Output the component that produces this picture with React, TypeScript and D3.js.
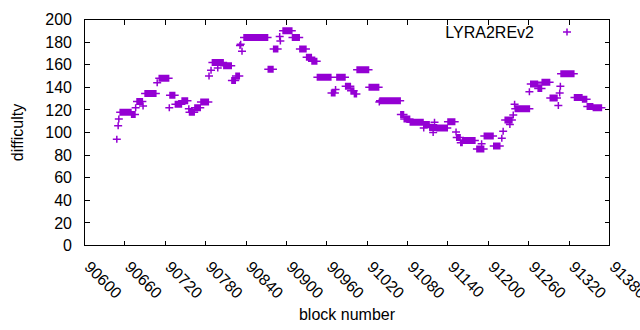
import * as d3 from "d3";
import { useEffect, useRef } from "react";

// runs of blocks that share one difficulty: first block, last block, value
const runStart = [
  90648, 90650, 90651, 90653, 90670, 90676, 90678, 90687, 90690, 90708,
  90711, 90726, 90727, 90735, 90745, 90755, 90756, 90764, 90773, 90785,
  90788, 90790, 90798, 90799, 90807, 90819, 90825, 90831, 90832, 90834,
  90837, 90873, 90881, 90890, 90891, 90895, 90909, 90920, 90930, 90938,
  90946, 90967, 90973, 90975, 90988, 90996, 91001, 91005, 91023, 91038,
  91039, 91070, 91075, 91084, 91104, 91105, 91113, 91118, 91120, 91124,
  91140, 91152, 91153, 91159, 91162, 91183, 91190, 91194, 91208, 91220,
  91222, 91225, 91232, 91237, 91239, 91240, 91261, 91263, 91274, 91280,
  91292, 91304, 91306, 91307, 91308, 91328, 91340, 91347, 91356,
];
const runEnd = [
  90648, 90650, 90651, 90669, 90675, 90676, 90686, 90687, 90706, 90708,
  90725, 90726, 90734, 90744, 90753, 90755, 90763, 90772, 90784, 90785,
  90788, 90797, 90798, 90806, 90818, 90824, 90830, 90831, 90832, 90834,
  90872, 90880, 90887, 90890, 90891, 90908, 90919, 90929, 90937, 90945,
  90966, 90972, 90973, 90987, 90995, 91000, 91004, 91022, 91037, 91038,
  91069, 91074, 91083, 91103, 91104, 91112, 91123, 91118, 91120, 91139,
  91150, 91152, 91158, 91161, 91180, 91193, 91190, 91207, 91217, 91220,
  91222, 91235, 91232, 91237, 91239, 91261, 91261, 91273, 91279, 91291,
  91302, 91304, 91306, 91307, 91327, 91339, 91346, 91355, 91368,
];
const runDifficulty = [
  94, 106, 112, 118, 116, 122, 127.5, 123.5, 134.5, 144,
  148, 122, 133, 125, 128, 121, 118, 122, 127, 150,
  155, 162, 157, 162, 159, 146, 150, 177, 178, 172,
  184, 156, 174, 185, 181, 190, 184, 174, 166.5, 163,
  149, 135, 138, 149, 141, 137, 134, 155.5, 140, 127,
  128, 116, 112, 109, 104, 107, 104.5, 100, 109, 104,
  109.5, 100.5, 95.5, 91, 93, 85.5, 90, 97, 88, 95,
  101, 111, 107, 115.5, 125, 121, 136, 143, 139, 144.5,
  130.5, 124, 135, 141, 152, 131, 129.5, 123, 122,
];

const xTicks = [90600, 90660, 90720, 90780, 90840, 90900, 90960, 91020, 91080, 91140, 91200, 91260, 91320, 91380];
const yTicks = [0, 20, 40, 60, 80, 100, 120, 140, 160, 180, 200];

const seriesName = "LYRA2REv2";
const purple = "#9400d3";

const App = () => {
  const ref = useRef(null);
  const width = 640;
  const height = 330;
  const margin = { top: 19.5, left: 84.5, right: 30.5, bottom: 84.5 };

  useEffect(() => {
    const svg = d3.select(ref.current);
    svg.selectAll("*").remove();
    const font = "'Liberation Sans', Arial, sans-serif";

    const x = d3.scaleLinear().domain([90600, 91380]).range([margin.left, width - margin.right]);
    const y = d3.scaleLinear().domain([0, 200]).range([height - margin.bottom, margin.top]);

    svg.append("rect").attr("width", width).attr("height", height).attr("fill", "#fff");

    // точки: каждый блок отдельным плюсом
    const pts = [];
    runStart.forEach((s, i) => {
      for (let b = s; b <= runEnd[i]; b++) pts.push([b, runDifficulty[i]]);
    });
    const plus = (cx, cy) => `M${cx - 4},${cy}H${cx + 4}M${cx},${cy - 3.5}V${cy + 3.5}`;
    svg.append("path")
      .attr("d", pts.map((d) => plus(x(d[0]), y(d[1]))).join(""))
      .attr("fill", "none")
      .attr("stroke", purple)
      .attr("stroke-width", 1.5);

    // рамка и тики
    const x0 = margin.left, x1 = width - margin.right;
    const y0 = height - margin.bottom, y1 = margin.top;
    const g = svg.append("g").attr("stroke", "#000").attr("stroke-width", 1).attr("shape-rendering", "crispEdges");
    yTicks.forEach((t) => {
      g.append("line").attr("x1", x0).attr("x2", x0 + 5).attr("y1", y(t)).attr("y2", y(t));
      g.append("line").attr("x1", x1).attr("x2", x1 - 5).attr("y1", y(t)).attr("y2", y(t));
    });
    xTicks.forEach((t) => {
      g.append("line").attr("x1", x(t)).attr("x2", x(t)).attr("y1", y0).attr("y2", y0 - 5);
      g.append("line").attr("x1", x(t)).attr("x2", x(t)).attr("y1", y1).attr("y2", y1 + 5);
    });
    g.append("rect").attr("x", x0).attr("y", y1).attr("width", x1 - x0).attr("height", y0 - y1).attr("fill", "none");

    // подписи
    yTicks.forEach((t) => {
      svg.append("text")
        .attr("x", 72).attr("y", y(t)).attr("dy", "0.35em")
        .attr("text-anchor", "end")
        .style("font", `16px ${font}`)
        .text(t);
    });
    xTicks.forEach((t) => {
      svg.append("text")
        .attr("transform", `translate(${x(t) - 1}, 268) rotate(45)`)
        .attr("text-anchor", "start")
        .style("font", `16px ${font}`)
        .text(t);
    });

    svg.append("text")
      .attr("transform", `translate(17, ${(y0 + y1) / 2}) rotate(-90)`)
      .attr("dy", "0.35em")
      .attr("text-anchor", "middle")
      .style("font", `16px ${font}`)
      .text("difficulty");
    svg.append("text")
      .attr("x", (x0 + x1) / 2).attr("y", 320)
      .attr("text-anchor", "middle")
      .style("font", `16px ${font}`)
      .text("block number");

    // легенда
    svg.append("text")
      .attr("x", 534).attr("y", 32).attr("dy", "0.35em")
      .attr("text-anchor", "end")
      .style("font", `16px ${font}`)
      .text(seriesName);
    svg.append("path")
      .attr("d", plus(567, 32))
      .attr("stroke", purple)
      .attr("stroke-width", 1.5);
  }, []);

  return <svg ref={ref} width={width} height={height} style={{ position: "absolute", left: 0, top: 0 }} />;
};

export default App;
